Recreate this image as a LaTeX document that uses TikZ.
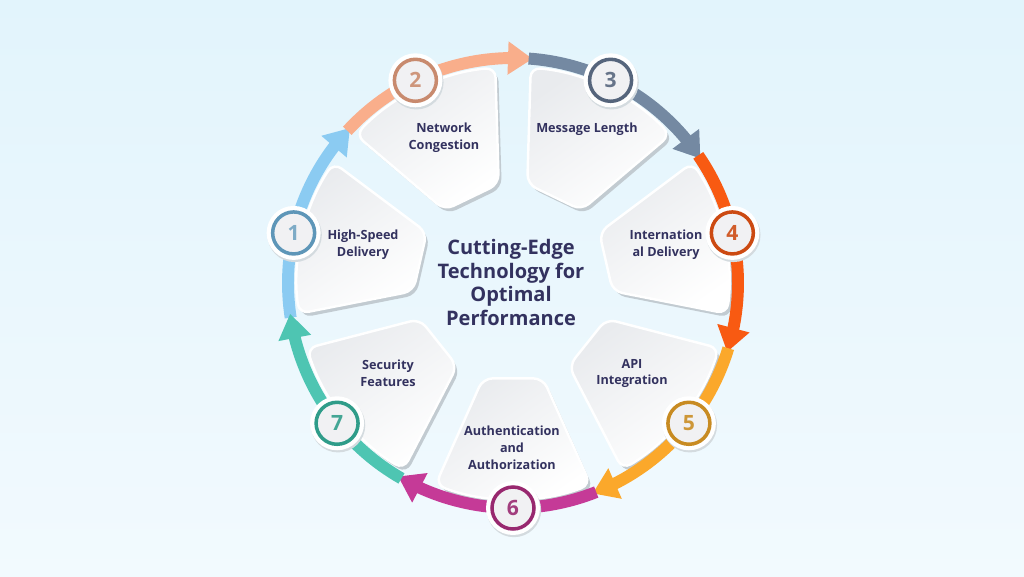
\documentclass[tikz,border=0pt]{standalone}
\usepackage{fontspec}
\setmainfont{Open Sans}
\usetikzlibrary{arrows.meta,bending}

\definecolor{bgtop}{HTML}{E2F4FC}
\definecolor{bgbot}{HTML}{F2FAFE}
\definecolor{inkblue}{HTML}{33325F}
\definecolor{cardgray}{HTML}{E9EBEE}
\definecolor{shadegray}{HTML}{C2CBD1}
\definecolor{numfill}{HTML}{F1F1F3}
% ring colours
\definecolor{skyband}{HTML}{8BCBF2}
\definecolor{peachband}{HTML}{F9AE8B}
\definecolor{slateband}{HTML}{7489A2}
\definecolor{flameband}{HTML}{F85A12}
\definecolor{amberband}{HTML}{FBA82B}
\definecolor{plumband}{HTML}{C53A97}
\definecolor{tealband}{HTML}{4EC5B2}
% number colours
\definecolor{skyring}{HTML}{5E96B8}
\definecolor{peachring}{HTML}{C88A6E}
\definecolor{slatering}{HTML}{56657C}
\definecolor{flamering}{HTML}{CC4A12}
\definecolor{amberring}{HTML}{C88B22}
\definecolor{plumring}{HTML}{98286F}
\definecolor{tealring}{HTML}{2F9C89}

\begin{document}
\begin{tikzpicture}[x=0.02cm, y=0.02cm,
    card/.style={preaction={fill=shadegray, transform canvas={shift={(3,-4)}}},
        draw=white, line width=1.4pt, top color=cardgray, bottom color=white,
        shading angle=35, rounded corners=5.5pt},
    band/.style={line width=6.8pt, -{Triangle[width=18pt,length=14pt]}},
    numbox/.style={circle, minimum size=0.84cm, inner sep=0pt, line width=2pt, fill=numfill,
        preaction={draw=shadegray!70, line width=7pt, transform canvas={shift={(1,-2)}}},
        preaction={draw=white, line width=6.8pt},
        font=\bfseries\fontsize{12}{12}\selectfont},
    cardtext/.style={font=\bfseries\fontsize{7.2}{9.6}\selectfont, text=inkblue, align=center},
    hubtext/.style={font=\bfseries\fontsize{11.4}{13.4}\selectfont, text=inkblue, align=center}]

    % background
    \fill[top color=bgtop, bottom color=bgbot] (-513,-293) rectangle (511,283);

    % cards
    \path[card] (184.64:100) -- (149.64:100) -- (146.14:216) arc[start angle=146.14, end angle=188.14, radius=216] -- cycle;
    \path[card] (133.21:100) -- (98.21:100) -- (94.71:216) arc[start angle=94.71, end angle=136.71, radius=216] -- cycle;
    \path[card] (81.79:100) -- (46.79:100) -- (43.29:216) arc[start angle=43.29, end angle=85.29, radius=216] -- cycle;
    \path[card] (30.36:100) -- (-4.64:100) -- (-8.14:216) arc[start angle=-8.14, end angle=33.86, radius=216] -- cycle;
    \path[card] (-21.07:100) -- (-56.07:100) -- (-59.57:216) arc[start angle=-59.57, end angle=-17.57, radius=216] -- cycle;
    \path[card] (-72.5:100) -- (-107.5:100) -- (-111:216) arc[start angle=-111, end angle=-69, radius=216] -- cycle;
    \path[card] (-123.93:100) -- (-158.93:100) -- (-162.43:216) arc[start angle=-162.43, end angle=-120.43, radius=216] -- cycle;

    % ring arrows
    \draw[band, skyband] (188.86:225) arc[start angle=188.86, end angle=136.43, radius=225];
    \draw[band, peachband] (137.43:225) arc[start angle=137.43, end angle=85, radius=225];
    \draw[band, slateband] (86:225) arc[start angle=86, end angle=33.57, radius=225];
    \draw[band, flameband] (34.57:225) arc[start angle=34.57, end angle=-17.86, radius=225];
    \draw[band, amberband] (-16.86:225) arc[start angle=-16.86, end angle=-69.29, radius=225];
    \draw[band, plumband] (-68.29:225) arc[start angle=-68.29, end angle=-120.71, radius=225];
    \draw[band, tealband] (-119.71:225) arc[start angle=-119.71, end angle=-172.14, radius=225];

    % numbers
    \node[numbox, draw=skyring, text=skyring!80] (n1) at (167.14:225) {1};
    \node[numbox, draw=peachring, text=peachring!90] (n2) at (115.71:225) {2};
    \node[numbox, draw=slatering, text=slatering!90] (n3) at (64.29:225) {3};
    \node[numbox, draw=flamering, text=flamering!90] (n4) at (12.86:225) {4};
    \node[numbox, draw=amberring, text=amberring!90] (n5) at (-38.57:225) {5};
    \node[numbox, draw=plumring, text=plumring!90] (n6) at (-90:225) {6};
    \node[numbox, draw=tealring, text=tealring!90] (n7) at (-141.43:225) {7};

    % labels
    \node[cardtext] (t1) at (-150,38) {High-Speed\\Delivery};
    \node[cardtext] (t2) at (-69,145.5) {Network\\Congestion};
    \node[cardtext] (t3) at (74,154) {Message Length};
    \node[cardtext] (t4) at (153,38) {Internation\\al Delivery};
    \node[cardtext] (t5) at (119,-90.5) {API\\Integration};
    \node[cardtext] (t6) at (-1,-165) {Authentication\\and\\Authorization};
    \node[cardtext] (t7) at (-125,-90.5) {Security\\Features};
    \node[hubtext] (hub) at (-2,0.5) {Cutting-Edge\\Technology for\\Optimal\\Performance};
\end{tikzpicture}
\end{document}
